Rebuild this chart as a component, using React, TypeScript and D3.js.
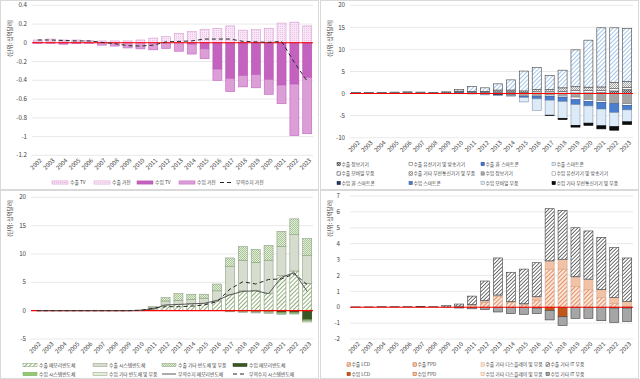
import React from 'react';
import * as d3 from 'd3';

const years = ['2002','2003','2004','2005','2006','2007','2008','2009','2010','2011','2012','2013','2014','2015','2016','2017','2018','2019','2020','2021','2022','2023'];

// Panel 1: TV / 가전
const tlTicks = [0.4, 0.2, 0, -0.2, -0.4, -0.6, -0.8, -1, -1.2];
const expTV = [0.01,0.01,0.01,0.01,0.01,0.005,0.005,0.005,0.005,0.005,0.005,0.005,0.005,0.005,0.005,0.005,0.005,0.005,0.005,0.005,0.005,0.005];
const expAppl = [0.02,0.03,0.02,0.02,0.015,0.015,0.015,0.015,0.025,0.045,0.06,0.095,0.115,0.14,0.15,0.175,0.13,0.135,0.15,0.205,0.215,0.175];
const impTV = [0,0,-0.005,0,0,0,0,0,0,0,0,0,-0.015,-0.065,-0.28,-0.38,-0.35,-0.34,-0.39,-0.45,-0.44,-0.37];
const impAppl = [-0.005,-0.005,-0.01,-0.01,-0.005,-0.025,-0.035,-0.055,-0.065,-0.075,-0.06,-0.09,-0.105,-0.105,-0.12,-0.14,-0.12,-0.14,-0.16,-0.2,-0.55,-0.6];
const balAppl = [0.03,0.03,0.025,0.02,0.02,0.005,-0.01,-0.03,-0.035,-0.025,0.01,0.015,0.02,0.04,0.04,0.04,0.015,0.01,0.005,0.015,-0.21,-0.41];

// Panel 2: 정보통신기기
const trTicks = [20, 15, 10, 5, 0, -5, -10];
const itExpInfo = [0.2,0.25,0.25,0.3,0.35,0.3,0.25,0.35,0.2,0.15,0.15,0.15,0.15,0.1,0.1,0.1,0.1,0.15,0.15,0.2,0.6,0.9];
const itExpWired = [0.02,0.02,0.02,0.02,0.03,0.03,0.03,0.03,0.1,0.1,0.1,0.2,0.2,0.2,0.3,0.3,0.4,0.5,0.5,0.5,0.5,0.5];
const itExpFeature = [0,0,0,0,0,0,0,0,0.1,0.05,0,0,0,0,0,0,0,0,0,0,0,0];
const itExpSmart = [0,0,0,0,0,0,0,0,0.05,0.05,0.05,0.05,0.05,0,0,0,0,0,0,0,0,0];
const itExpMobile = [0,0,0,0,0,0,0,0,0.35,1.15,0.8,1.4,2.3,4.5,5.0,3.2,4.0,8.35,10.65,13.4,12.4,12.0];
const itExpOther = [0,0,0,0,0,0,0,0,0.1,0.1,0.2,0.4,0.4,0.3,0.5,0.5,0.8,0.9,0.8,0.8,1.4,1.3];
const itImpInfo = [0,0,0,0,0,0,0,0,0,0,-0.1,-0.2,-0.3,-0.4,-0.4,-0.3,-0.4,-0.8,-1.3,-1.6,-2.0,-2.3];
const itImpWired = [0,0,0,0,0,0,0,0,0,0,-0.05,-0.05,-0.05,-0.2,-0.3,-0.3,-0.4,-0.6,-0.5,-0.4,-0.3,-0.4];
const itImpFeature = [0,0,0,0,0,0,0,0,0,0,0,-0.1,-0.1,0,0,0,0,0,0,0,0,0];
const itImpSmart = [0,0,0,0,0,0,0,0,0,0,0,0,0,-0.3,-0.5,-0.9,-1.0,-1.1,-1.0,-1.5,-2.0,-1.0];
const itImpMobile = [0,0,0,0,0,0,0,0,-0.05,-0.1,-0.15,-0.1,-0.15,-1.0,-2.6,-3.4,-3.8,-4.7,-3.9,-3.8,-3.2,-2.7];
const itImpOther = [0,0,0,0,0,0,0,0,0,0,0,0,0,0,0,-0.1,-0.3,-0.4,-0.5,-0.7,-0.8,-0.6];

// Panel 3: 반도체
const blTicks = [20, 15, 10, 5, 0, -5];
const scExpMem = [0.02,0.02,0.02,0.02,0.02,0.02,0.02,0.02,0.05,0.3,1.0,1.1,1.3,1.3,1.7,2.8,3.5,3.6,3.0,6.2,7.0,4.8];
const scExpSys = [0,0,0,0,0,0,0,0,0.03,0.2,0.7,0.7,0.7,0.9,1.8,5.0,5.4,4.9,5.9,5.1,6.4,4.9];
const scExpOther = [0,0,0,0,0,0,0,0,0.02,0.2,0.6,1.2,0.9,0.7,1.2,1.5,2.4,2.3,2.6,2.7,2.8,3.0];
const scImpMem = [0,0,0,0,0,0,0,0,0,0,0,0,0,0,0,-0.05,-0.05,-0.1,-0.1,-0.3,-0.3,-1.6];
const scImpSys = [0,0,0,0,0,0,0,0,0,0,0,0,0,0,0,-0.1,-0.15,-0.15,-0.2,-0.2,-0.15,-0.2];
const scImpOther = [0,0,0,0,0,0,0,0,0,0,0,0,0,0,0,-0.05,-0.1,-0.15,-0.2,-0.2,-0.15,-0.2];
const scBalMem = [0,0,0,0,0,0,0,0,0.05,0.3,1.0,1.1,1.2,1.3,1.8,2.8,3.4,3.5,3.0,5.9,6.7,3.4];
const scBalSys = [0,0,0,0,0,0,0,0,0.03,0.4,0.7,0.7,0.8,1.0,1.6,3.8,5.1,4.7,5.5,5.6,6.5,4.6];

// Panel 4: 디스플레이
const brTicks = [7, 6, 5, 4, 3, 2, 1, 0, -1, -2];
const dpExpLCD = [0,0,0,0,0,0,0,0,0.05,0.1,0.3,0.7,0.3,0.15,0.45,2.4,2.4,1.3,1.1,0.6,0.25,0.05];
const dpExpFPD = [0,0,0,0,0,0,0,0,0,0.05,0.1,0.05,0.05,0.05,0.2,0.5,0.6,0.6,0.65,0.5,0.35,0.3];
const dpExpOtherDisp = [0.01,0.01,0.04,0.04,0.04,0.03,0.04,0.02,0.02,0.02,0.02,0.02,0.02,0.02,0.02,0.02,0.02,0.02,0.02,0.02,0.02,0.02];
const dpExpIT = [0.01,0.01,0.01,0.01,0.01,0.01,0.01,0.08,0.13,0.53,1.23,2.33,1.83,2.18,2.13,3.28,3.08,3.08,3.03,3.28,3.13,2.73];
const dpImpLCD = [0,0,0,0,0,0,0,0,0,0,0,0,0,0,-0.05,-0.2,-0.6,0,0,0,0,0];
const dpImpFPD = [0,0,0,0,0,0,0,0,0,0,0,0,0,0,0,0,0,0,0,0,-0.05,-0.05];
const dpImpOtherDisp = [0,0,0,0,0,0,0,0,0,0,0,0,0,0,0,0,0,0,0,0,0,0];
const dpImpIT = [0,0,0,0,0,0,0,0,-0.05,-0.1,-0.15,-0.3,-0.4,-0.45,-0.35,-0.6,-0.55,-0.7,-0.7,-0.85,-0.9,-0.85];

const FONT = '"Noto Sans CJK KR", "Noto Sans", sans-serif';

type SeriesDef = { key: string; values: number[]; fill: string; stroke: string };
type LineDef = { key: string; values: number[]; stroke: string; dash?: string; width?: number };
type LegendItem = { label: string; kind: 'rect' | 'sq' | 'line'; fill?: string; stroke?: string; dash?: string; x: number; y: number; w?: number };

type PanelProps = {
  domain: [number, number]; ticks: number[]; yTop: number; yBot: number; xL: number; xR: number;
  labelX: number; titleX: number; titleY: number; series: SeriesDef[]; lines: LineDef[]; legend: LegendItem[];
};

function fmt(v: number) {
  return String(Math.round(v * 10) / 10);
}

function Panel(p: PanelProps) {
  const x = d3.scaleBand<string>().domain(years).range([p.xL, p.xR]).paddingInner(0.3).paddingOuter(0.1);
  const y = d3.scaleLinear().domain(p.domain).range([p.yBot, p.yTop]);
  const rows = years.map((yr, i) => {
    const r: any = { year: yr };
    p.series.forEach((s) => { r[s.key] = s.values[i]; });
    return r;
  });
  const stacked = d3.stack<any>().keys(p.series.map((s) => s.key)).offset(d3.stackOffsetDiverging)(rows);
  const bw = x.bandwidth();
  return (
    <g>
      {p.ticks.map((t) => (
        <g key={'t' + t}>
          <line x1={p.xL} x2={p.xR} y1={y(t)} y2={y(t)} stroke="#e3e3e3" strokeWidth={0.8} />
          <text x={p.labelX} y={y(t)} dy="0.35em" textAnchor="end" fontSize={6.2} fill="#404040" fontFamily={FONT}>{fmt(t)}</text>
        </g>
      ))}
      <text transform={`translate(${p.titleX},${p.titleY}) rotate(-90)`} textAnchor="middle" fontSize={5.6} fill="#404040" fontFamily={FONT}>(단위: 십억달러)</text>
      {stacked.map((layer, li) => {
        const s = p.series[li];
        return (
          <g key={s.key}>
            {layer.map((d, i) => {
              const y0 = y(d[0]);
              const y1 = y(d[1]);
              const h = Math.abs(y0 - y1);
              if (h < 0.05) return null;
              return (
                <rect key={i} x={x(years[i])!} y={Math.min(y0, y1)} width={bw} height={h} fill={s.fill} stroke={s.stroke} strokeWidth={0.6} />
              );
            })}
          </g>
        );
      })}
      <line x1={p.xL} x2={p.xR} y1={y(0)} y2={y(0)} stroke="#FF0000" strokeWidth={1.1} />
      {p.lines.map((l) => {
        const gen = d3.line<number>().x((_, i) => x(years[i])! + bw / 2).y((v) => y(v));
        return <path key={l.key} d={gen(l.values) || ''} fill="none" stroke={l.stroke} strokeWidth={l.width ?? 1} strokeDasharray={l.dash} />;
      })}
      {years.map((yr) => (
        <text key={yr} transform={`translate(${x(yr)! + bw / 2 + 3},${p.yBot + 4}) rotate(-45)`} textAnchor="end" dy="0.35em" fontSize={6} fill="#404040" fontFamily={FONT}>{yr}</text>
      ))}
      {p.legend.map((it, i) => {
        const w = it.w ?? (it.kind === 'sq' ? 3.4 : 15);
        let sw: React.ReactNode;
        if (it.kind === 'sq') sw = <rect x={it.x} y={it.y - 1.7} width={3.4} height={3.4} fill={it.fill} stroke={it.stroke} strokeWidth={0.5} />;
        else if (it.kind === 'rect') sw = <rect x={it.x} y={it.y - 1.6} width={w} height={3.2} fill={it.fill} stroke={it.stroke} strokeWidth={0.5} />;
        else sw = <line x1={it.x} x2={it.x + w} y1={it.y} y2={it.y} stroke={it.stroke} strokeWidth={1} strokeDasharray={it.dash} />;
        return (
          <g key={'lg' + i}>
            {sw}
            <text x={it.x + w + (it.kind === 'sq' ? 1 : 2)} y={it.y} dy="0.35em" fontSize={4.8} fill="#404040" fontFamily={FONT}>{it.label}</text>
          </g>
        );
      })}
    </g>
  );
}

export default function App() {
  const tlSeries: SeriesDef[] = [
    { key: '수출 TV', values: expTV, fill: 'url(#tlDotA)', stroke: '#D79AD2' },
    { key: '수출 가전', values: expAppl, fill: 'url(#tlDotB)', stroke: '#D79AD2' },
    { key: '수입 TV', values: impTV, fill: '#C462C0', stroke: '#B24FAE' },
    { key: '수입 가전', values: impAppl, fill: '#DB9ED7', stroke: '#C462C0' },
  ];
  const tlLegend: LegendItem[] = [
    { label: '수출 TV', kind: 'rect', fill: 'url(#tlDotA)', stroke: '#D79AD2', x: 52, y: 182.5, w: 16 },
    { label: '수출 가전', kind: 'rect', fill: 'url(#tlDotB)', stroke: '#D79AD2', x: 94, y: 182.5, w: 16 },
    { label: '수입 TV', kind: 'rect', fill: '#C462C0', stroke: '#B24FAE', x: 137, y: 182.5, w: 16 },
    { label: '수입 가전', kind: 'rect', fill: '#DB9ED7', stroke: '#C462C0', x: 179, y: 182.5, w: 16 },
    { label: '무역수지 가전', kind: 'line', stroke: '#262626', dash: '4,3', x: 220, y: 182.5, w: 14 },
  ];

  const trSeries: SeriesDef[] = [
    { key: '수출 정보기기', values: itExpInfo, fill: 'url(#chkDark)', stroke: '#404040' },
    { key: '수출 유선기기 및 방송기기', values: itExpWired, fill: '#ffffff', stroke: '#595959' },
    { key: '수출 非 스마트폰', values: itExpFeature, fill: '#4472C4', stroke: '#2F5597' },
    { key: '수출 스마트폰', values: itExpSmart, fill: '#DEEBF7', stroke: '#7F8FA6' },
    { key: '수출 기타 무선통신기기 및 부품', values: itExpOther, fill: 'url(#chkLight)', stroke: '#595959' },
    { key: '수출 모바일 부품', values: itExpMobile, fill: 'url(#hatchBlue)', stroke: '#404040' },
    { key: '수입 정보기기', values: itImpInfo, fill: '#A5A5A5', stroke: '#7F7F7F' },
    { key: '수입 유선기기 및 방송기기', values: itImpWired, fill: '#ffffff', stroke: '#7F7F7F' },
    { key: '수입 非 스마트폰', values: itImpFeature, fill: '#203864', stroke: '#1a2b4c' },
    { key: '수입 스마트폰', values: itImpSmart, fill: '#4A7FD0', stroke: '#2F5597' },
    { key: '수입 모바일 부품', values: itImpMobile, fill: '#DDEAF7', stroke: '#8497B0' },
    { key: '수입 기타 무선통신기기 및 부품', values: itImpOther, fill: '#0d0d0d', stroke: '#000000' },
  ];
  const trCols = [337, 409, 481, 552];
  const trRows = [164, 173.5, 183];
  const trLegendDefs: [string, string, string][] = [
    ['수출 정보기기', 'url(#chkDark)', '#404040'],
    ['수출 유선기기 및 방송기기', '#ffffff', '#595959'],
    ['수출 非 스마트폰', '#4472C4', '#2F5597'],
    ['수출 스마트폰', '#DEEBF7', '#7F8FA6'],
    ['수출 모바일 부품', 'url(#hatchBlue)', '#404040'],
    ['수출 기타 무선통신기기 및 부품', 'url(#chkLight)', '#595959'],
    ['수입 정보기기', '#A5A5A5', '#7F7F7F'],
    ['수입 유선기기 및 방송기기', '#ffffff', '#7F7F7F'],
    ['수입 非 스마트폰', '#203864', '#1a2b4c'],
    ['수입 스마트폰', '#4A7FD0', '#2F5597'],
    ['수입 모바일 부품', '#DDEAF7', '#8497B0'],
    ['수입 기타 무선통신기기 및 부품', '#0d0d0d', '#000000'],
  ];
  const trLegend: LegendItem[] = trLegendDefs.map((d, i) => ({
    label: d[0], kind: 'sq', fill: d[1], stroke: d[2], x: trCols[i % 4], y: trRows[Math.floor(i / 4)],
  }));

  const blSeries: SeriesDef[] = [
    { key: '수출 메모리반도체', values: scExpMem, fill: 'url(#hatchGreen)', stroke: '#7F9C6A' },
    { key: '수출 시스템반도체', values: scExpSys, fill: '#D6DDCF', stroke: '#8FA083' },
    { key: '수출 기타 반도체 및 부품', values: scExpOther, fill: 'url(#chkGreen)', stroke: '#8FA083' },
    { key: '수입 메모리반도체', values: scImpMem, fill: '#375623', stroke: '#2A431B' },
    { key: '수입 시스템반도체', values: scImpSys, fill: '#8FCB6E', stroke: '#6FA052' },
    { key: '수입 기타 반도체 및 부품', values: scImpOther, fill: '#E2EFDA', stroke: '#8FA083' },
  ];
  const blLegend: LegendItem[] = [
    { label: '수출 메모리반도체', kind: 'rect', fill: 'url(#hatchGreen)', stroke: '#7F9C6A', x: 23, y: 365, w: 14 },
    { label: '수출 시스템반도체', kind: 'rect', fill: '#D6DDCF', stroke: '#8FA083', x: 93, y: 365, w: 14 },
    { label: '수출 기타 반도체 및 부품', kind: 'rect', fill: 'url(#chkGreen)', stroke: '#8FA083', x: 162, y: 365, w: 14 },
    { label: '수입 메모리반도체', kind: 'rect', fill: '#375623', stroke: '#2A431B', x: 233, y: 365, w: 14 },
    { label: '수입 시스템반도체', kind: 'rect', fill: '#8FCB6E', stroke: '#6FA052', x: 23, y: 374, w: 14 },
    { label: '수입 기타 반도체 및 부품', kind: 'rect', fill: '#E2EFDA', stroke: '#8FA083', x: 93, y: 374, w: 14 },
    { label: '무역수지 메모리반도체', kind: 'line', stroke: '#595959', x: 162, y: 374, w: 14 },
    { label: '무역수지 시스템반도체', kind: 'line', stroke: '#262626', dash: '4,3', x: 233, y: 374, w: 14 },
  ];

  const brSeries: SeriesDef[] = [
    { key: '수출 LCD', values: dpExpLCD, fill: 'url(#hatchRed)', stroke: '#C9A08A' },
    { key: '수출 FPD', values: dpExpFPD, fill: '#F1C2A6', stroke: '#DDA583' },
    { key: '수출 기타 디스플레이 및 부품', values: dpExpOtherDisp, fill: '#FBE3D4', stroke: '#9DA8B5' },
    { key: '수출 기타 IT 부품', values: dpExpIT, fill: 'url(#hatchBlack)', stroke: '#404040' },
    { key: '수입 LCD', values: dpImpLCD, fill: '#C0561A', stroke: '#9C4212' },
    { key: '수입 FPD', values: dpImpFPD, fill: '#F1C2A6', stroke: '#404040' },
    { key: '수입 기타 디스플레이 및 부품', values: dpImpOtherDisp, fill: '#FBE3D4', stroke: '#DDA583' },
    { key: '수입 기타 IT 부품', values: dpImpIT, fill: '#A6A6A6', stroke: '#404040' },
  ];
  const brCols = [347, 413, 481, 546];
  const brLegendDefs: [string, string, string][] = [
    ['수출 LCD', 'url(#hatchRed)', '#C0561A'],
    ['수출 FPD', '#F1C2A6', '#C0561A'],
    ['수출 기타 디스플레이 및 부품', '#FBE3D4', '#DDA583'],
    ['수출 기타 IT 부품', 'url(#hatchBlack)', '#404040'],
    ['수입 LCD', '#C0561A', '#9C4212'],
    ['수입 FPD', '#F1C2A6', '#C0561A'],
    ['수입 기타 디스플레이 및 부품', '#FBE3D4', '#DDA583'],
    ['수입 기타 IT 부품', '#A6A6A6', '#404040'],
  ];
  const brLegend: LegendItem[] = brLegendDefs.map((d, i) => ({
    label: d[0], kind: 'sq', fill: d[1], stroke: d[2], x: brCols[i % 4], y: i < 4 ? 364.5 : 374,
  }));

  return (
    <svg width={640} height={379} style={{ position: 'absolute', left: 0, top: 0, display: 'block', background: '#fff' }}>
      <defs>
        <pattern id="tlDotA" patternUnits="userSpaceOnUse" width={2} height={2}>
          <rect width={2} height={2} fill="#F6DDF3" />
          <rect width={1} height={1} fill="#E6B4E2" />
        </pattern>
        <pattern id="tlDotB" patternUnits="userSpaceOnUse" width={2} height={2}>
          <rect width={2} height={2} fill="#F8E6F6" />
          <rect width={1} height={1} fill="#EBC3E8" />
        </pattern>
        <pattern id="hatchBlue" patternUnits="userSpaceOnUse" width={3} height={3} patternTransform="rotate(45)">
          <rect width={3} height={3} fill="#ffffff" />
          <line x1={0} y1={0} x2={0} y2={3} stroke="#8DB8E2" strokeWidth={1.6} />
        </pattern>
        <pattern id="hatchGreen" patternUnits="userSpaceOnUse" width={3} height={3} patternTransform="rotate(45)">
          <rect width={3} height={3} fill="#ffffff" />
          <line x1={0} y1={0} x2={0} y2={3} stroke="#548235" strokeWidth={1.3} />
        </pattern>
        <pattern id="hatchRed" patternUnits="userSpaceOnUse" width={3} height={3} patternTransform="rotate(45)">
          <rect width={3} height={3} fill="#FBE5D6" />
          <line x1={0} y1={0} x2={0} y2={3} stroke="#D2541E" strokeWidth={1.2} />
        </pattern>
        <pattern id="hatchBlack" patternUnits="userSpaceOnUse" width={2.6} height={2.6} patternTransform="rotate(45)">
          <rect width={2.6} height={2.6} fill="#ffffff" />
          <line x1={0} y1={0} x2={0} y2={2.6} stroke="#262626" strokeWidth={1.3} />
        </pattern>
        <pattern id="chkDark" patternUnits="userSpaceOnUse" width={2} height={2}>
          <rect width={2} height={2} fill="#bfbfbf" />
          <rect width={1} height={1} fill="#595959" />
          <rect x={1} y={1} width={1} height={1} fill="#595959" />
        </pattern>
        <pattern id="chkLight" patternUnits="userSpaceOnUse" width={2} height={2}>
          <rect width={2} height={2} fill="#f2f2f2" />
          <rect width={1} height={1} fill="#a6a6a6" />
          <rect x={1} y={1} width={1} height={1} fill="#a6a6a6" />
        </pattern>
        <pattern id="chkGreen" patternUnits="userSpaceOnUse" width={2} height={2}>
          <rect width={2} height={2} fill="#E2EFDA" />
          <rect width={1} height={1} fill="#A9C597" />
          <rect x={1} y={1} width={1} height={1} fill="#A9C597" />
        </pattern>
      </defs>
      <rect x={0.5} y={0.5} width={318} height={189} fill="none" stroke="#d9d9d9" />
      <rect x={320.5} y={0.5} width={318} height={189} fill="none" stroke="#d9d9d9" />
      <rect x={0.5} y={190.5} width={318} height={188} fill="none" stroke="#d9d9d9" />
      <rect x={320.5} y={190.5} width={318} height={188} fill="none" stroke="#d9d9d9" />
      <Panel domain={[-1.2, 0.4]} ticks={tlTicks} yTop={5.3} yBot={155.3} xL={32} xR={313} labelX={27} titleX={12} titleY={38}
        series={tlSeries} lines={[{ key: '무역수지 가전', values: balAppl, stroke: '#262626', dash: '4,3', width: 1 }]} legend={tlLegend} />
      <Panel domain={[-10, 20]} ticks={trTicks} yTop={5.3} yBot={137.7} xL={350} xR={633} labelX={345} titleX={332} titleY={38}
        series={trSeries} lines={[]} legend={trLegend} />
      <Panel domain={[-5, 20]} ticks={blTicks} yTop={197.3} yBot={339} xL={31} xR={313} labelX={26} titleX={12} titleY={218}
        series={blSeries} lines={[
          { key: '무역수지 메모리반도체', values: scBalMem, stroke: '#595959', width: 1 },
          { key: '무역수지 시스템반도체', values: scBalSys, stroke: '#262626', dash: '4,3', width: 1 },
        ]} legend={blLegend} />
      <Panel domain={[-2, 7]} ticks={brTicks} yTop={196} yBot={339} xL={350} xR={633} labelX={340} titleX={332} titleY={218}
        series={brSeries} lines={[]} legend={brLegend} />
    </svg>
  );
}
